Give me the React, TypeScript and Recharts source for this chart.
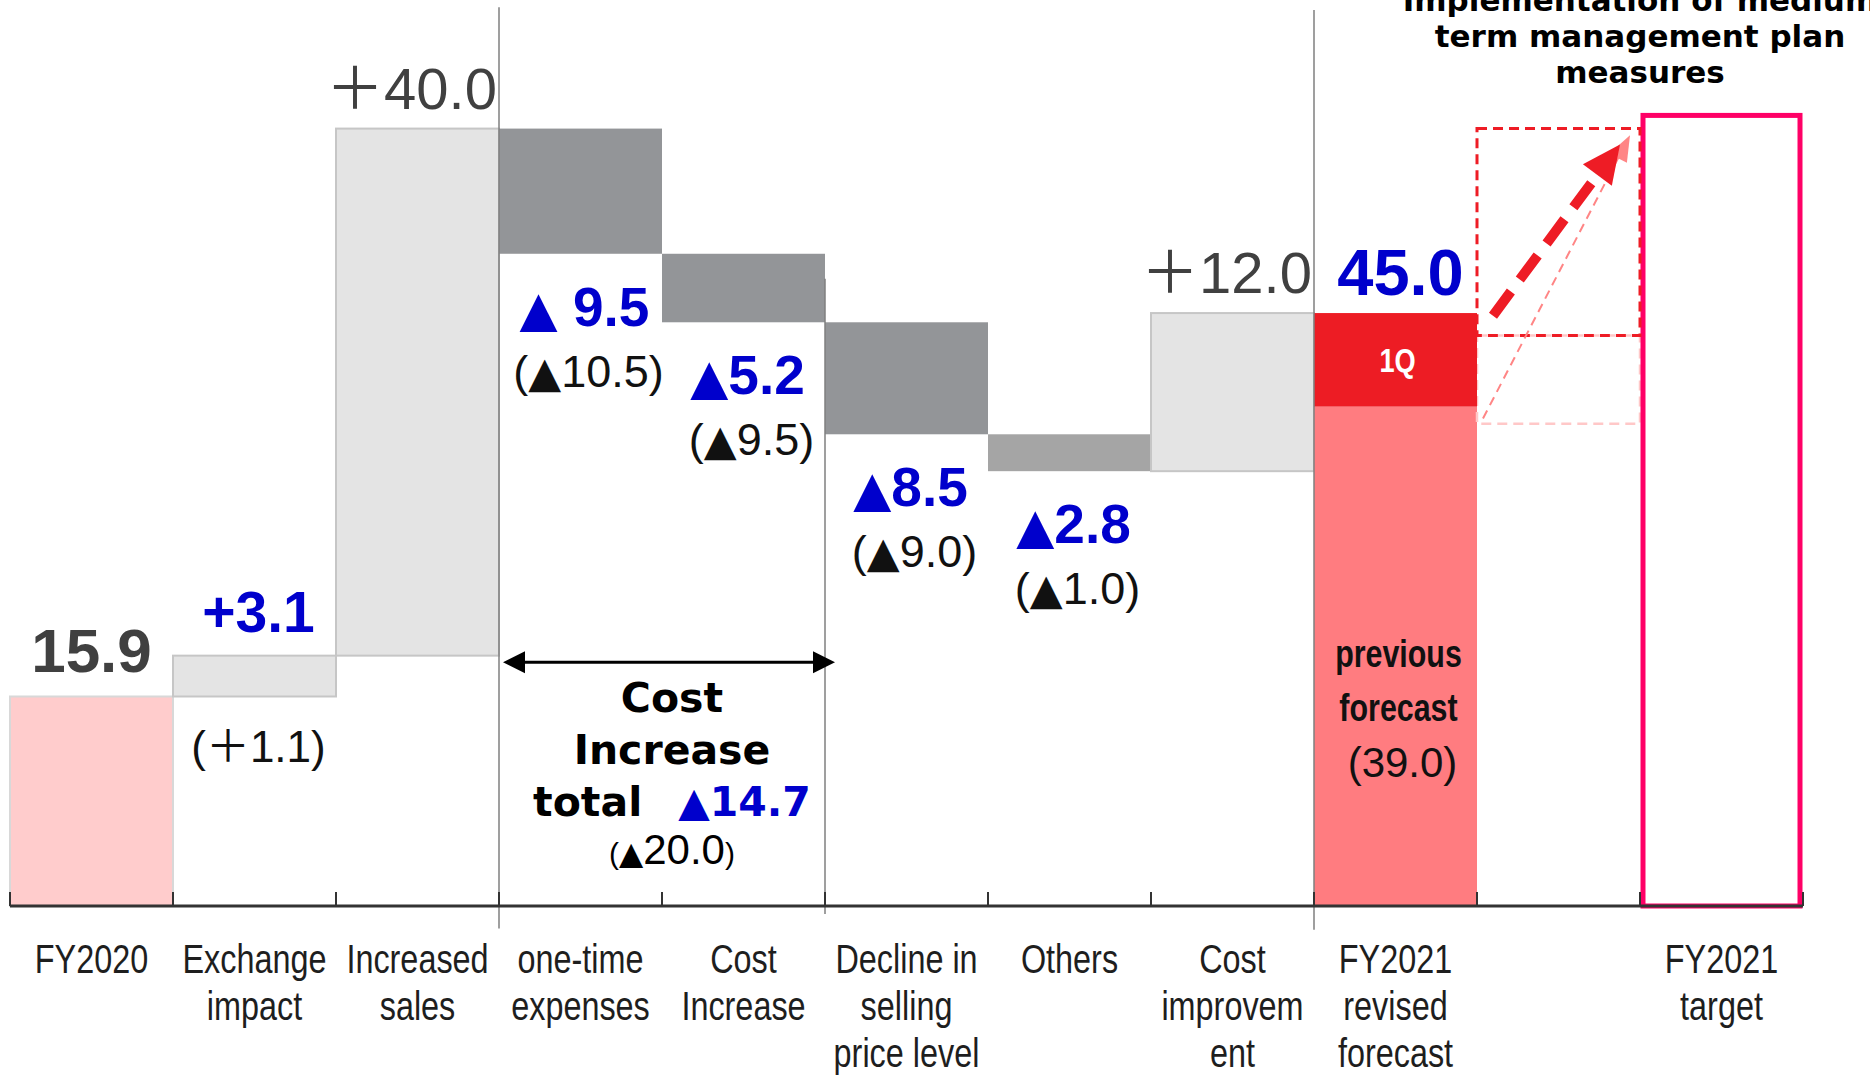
import React from 'react'
import { BarChart, Bar, XAxis, YAxis, ReferenceLine } from 'recharts'

const categories = [
  'FY2020', 'Exchange impact', 'Increased sales', 'one-time expenses', 'Cost Increase',
  'Decline in selling price level', 'Others', 'Cost improvement', 'FY2021 revised forecast',
  'plan measures', 'FY2021 target',
]

const tickLines = [
  ['FY2020'], ['Exchange', 'impact'], ['Increased', 'sales'], ['one-time', 'expenses'],
  ['Cost', 'Increase'], ['Decline in', 'selling', 'price level'], ['Others'],
  ['Cost', 'improvem', 'ent'], ['FY2021', 'revised', 'forecast'], [], ['FY2021', 'target'],
]

// FY2020 result followed by each bridge item
const steps = [15.9, 3.1, 40.0, -9.5, -5.2, -8.5, -2.8, 12.0]
const revisedTotal = 45.0
const revisedPrev = 37.9
const planBox = [36.6, 43.3, 59.0]
const targetValue = 60.0

const stepLabels = ['15.9', '+3.1', '＋40.0', '▲ 9.5', '▲5.2', '▲8.5', '▲2.8', '＋12.0']
const prevYearLabels = ['', '(＋1.1)', '', '(▲10.5)', '(▲9.5)', '(▲9.0)', '(▲1.0)', '']
const costTotalLines = ['Cost', 'Increase', 'total', '▲14.7', '(▲20.0)']
const forecastNote = ['previous', 'forecast', '(39.0)']
const planTitle = ['Implementation of medium', 'term management plan', 'measures']

// separators drawn at the left edge of these categories
const separators = [
  { at: 3, top: 68.2, bottom: -1.7 },
  { at: 5, top: 47.6, bottom: -0.6 },
  { at: 8, top: 68.0, bottom: -1.8 },
]
const costSpan = { from: 3, to: 5, y: 18.5 }
// arrows from the left edge of the plan slot to the left edge of the target slot
const planArrows = [
  { y1: 37.0, y2: 58.5, dx1: 6, dx2: -10, bold: false },
  { y1: 44.8, y2: 57.8, dx1: 16, dx2: -20, bold: true },
]

const fills = ['#ffcccc', '#e4e4e4', '#e4e4e4', '#939598', '#939598', '#939598', '#a5a5a5', '#e4e4e4', '#ff7c80']

const rows = (() => {
  let level = 0
  return categories.map((name, i) => {
    if (i < steps.length) {
      const s = steps[i]
      const base = s >= 0 ? level : level + s
      level += s
      return { name, base, delta: Math.abs(s), top: 0 }
    }
    if (i === 8) return { name, base: 0, delta: revisedPrev, top: revisedTotal - revisedPrev }
    if (i === 9) return { name, base: planBox[0], delta: planBox[1] - planBox[0], top: planBox[2] - planBox[1] }
    return { name, base: 0, delta: targetValue, top: 0 }
  })
})()

const SANS = "'Liberation Sans', 'DejaVu Sans', 'Noto Sans CJK JP', sans-serif"
const VERDANA = "'DejaVu Sans', 'Liberation Sans', sans-serif"
const BLUE = '#0000cc'
const DARK = '#404040'

function Tri({ size = '0.8em' }: { size?: string }) {
  return <tspan fontFamily={VERDANA} fontSize={size}>▲</tspan>
}

function splitTri(label: string, size?: string) {
  const parts = label.split('▲')
  if (parts.length === 1) return label
  return <>{parts[0]}<Tri size={size} />{parts[1]}</>
}

// Liberation Sans squeezed horizontally, like Arial Narrow
function Narrow({ x, y, sx = 0.8, children, ...rest }: any) {
  return (
    <text transform={`translate(${x},${y}) scale(${sx},1)`} x={0} y={0} fontFamily={SANS} {...rest}>
      {children}
    </text>
  )
}

function StepShape(props: any) {
  const { x, y, width, height, index } = props
  const cx = x + width / 2
  if (index === 9) {
    return <rect x={x} y={y} width={width} height={height} fill="none" stroke="#ffc8c8" strokeWidth={2.5} strokeDasharray="10 6" />
  }
  if (index === 10) {
    return <rect x={x + 3} y={y} width={width - 6} height={height} fill="#fff" stroke="#ff0066" strokeWidth={5} />
  }
  const light = [1, 2, 7].includes(index)
  const bottom = y + height
  return (
    <g>
      <rect x={x} y={y} width={width} height={height} fill={fills[index]}
        stroke={light ? '#c6c6c6' : index === 0 ? '#d8d8d8' : 'none'} strokeWidth={2} />
      {index === 0 && (
        <text x={cx} y={y - 24} textAnchor="middle" fontFamily={SANS} fontWeight="bold" fontSize={62} fill={DARK}>{stepLabels[0]}</text>
      )}
      {index === 1 && (
        <>
          <text x={cx + 4} y={y - 24} textAnchor="middle" fontFamily={SANS} fontWeight="bold" fontSize={57} fill={BLUE}>{stepLabels[1]}</text>
          <text x={cx + 4} y={bottom + 66} textAnchor="middle" fontFamily={SANS} fontSize={44} fill="#111">{prevYearLabels[1]}</text>
        </>
      )}
      {(index === 2 || index === 7) && (
        <text x={x + width - 2} y={y - 20} textAnchor="end" fontFamily={SANS} fontSize={58} fill={DARK}>{stepLabels[index]}</text>
      )}
      {index >= 3 && index <= 6 && (
        <>
          <text x={cx + 4} y={bottom + 72} textAnchor="middle" fontFamily={SANS} fontWeight="bold" fontSize={55} fill={BLUE}>
            {splitTri(stepLabels[index], '0.9em')}
          </text>
          <text x={cx + 8} y={bottom + 133} textAnchor="middle" fontFamily={SANS} fontSize={45} fill="#111">
            {splitTri(prevYearLabels[index], '0.95em')}
          </text>
        </>
      )}
      {index === 8 && (
        <>
          <Narrow x={cx + 3} y={y + 260} textAnchor="middle" fontWeight="bold" fontSize={38} fill="#111">{forecastNote[0]}</Narrow>
          <Narrow x={cx + 3} y={y + 314} textAnchor="middle" fontWeight="bold" fontSize={38} fill="#111">{forecastNote[1]}</Narrow>
          <text x={cx + 7} y={y + 370} textAnchor="middle" fontFamily={SANS} fontSize={42} fill="#111">{forecastNote[2]}</text>
        </>
      )}
    </g>
  )
}

function TopShape(props: any) {
  const { x, y, width, height, index } = props
  const cx = x + width / 2
  if (index === 8) {
    return (
      <g>
        <rect x={x} y={y} width={width} height={height} fill="#ed1c24" />
        <Narrow x={cx + 2} y={y + height / 2 + 12} textAnchor="middle" fontWeight="bold" fontSize={34} fill="#fff">1Q</Narrow>
        <text x={cx + 5} y={y - 18} textAnchor="middle" fontFamily={SANS} fontWeight="bold" fontSize={65} fill={BLUE}>{revisedTotal.toFixed(1)}</text>
      </g>
    )
  }
  if (index === 9) {
    return (
      <g>
        <rect x={x} y={y} width={width} height={height} fill="none" stroke="#ee1c25" strokeWidth={3} strokeDasharray="10 6" />
        {planTitle.map((t, i) => (
          <text key={t} x={x + width} y={y - 118 + i * 36} textAnchor="middle" fontFamily={VERDANA} fontWeight="bold" fontSize={31} fill="#000">{t}</text>
        ))}
      </g>
    )
  }
  return <g />
}

function CategoryTick(props: any) {
  const { x, y, payload, index } = props
  const half = payload?.offset ?? 81.5
  const i = payload?.index ?? index
  const lines = tickLines[i] || []
  return (
    <g>
      <line x1={x - half} x2={x - half} y1={y} y2={y - 14} stroke="#333" strokeWidth={2} />
      {i === categories.length - 1 && <line x1={x + half} x2={x + half} y1={y} y2={y - 14} stroke="#333" strokeWidth={2} />}
      <Narrow x={x} y={y + 67} sx={0.79} textAnchor="middle" fontSize={41} fill="#1e1e1e">
        {lines.map((l, k) => <tspan key={k} x={0} dy={k === 0 ? 0 : 47}>{l}</tspan>)}
      </Narrow>
    </g>
  )
}

function arrowHead(x1: number, y1: number, x2: number, y2: number, len: number, wid: number) {
  const a = Math.atan2(y2 - y1, x2 - x1)
  const bx = x2 - len * Math.cos(a)
  const by = y2 - len * Math.sin(a)
  const nx = -Math.sin(a) * wid / 2
  const ny = Math.cos(a) * wid / 2
  return `${x2},${y2} ${bx + nx},${by + ny} ${bx - nx},${by - ny}`
}

function CostArrow(props: any) {
  const x1 = props.x1 + 4
  const x2 = props.x2 + 10
  const y1 = props.y1
  const cx = (x1 + x2) / 2 + 3
  return (
    <g>
      <line x1={x1 + 18} y1={y1} x2={x2 - 18} y2={y1} stroke="#000" strokeWidth={3} />
      <polygon points={arrowHead(x2, y1, x1, y1, 22, 22)} fill="#000" />
      <polygon points={arrowHead(x1, y1, x2, y1, 22, 22)} fill="#000" />
      <text x={cx} y={y1 + 50} textAnchor="middle" fontFamily={VERDANA} fontWeight="bold" fontSize={41} fill="#000">{costTotalLines[0]}</text>
      <text x={cx} y={y1 + 102} textAnchor="middle" fontFamily={VERDANA} fontWeight="bold" fontSize={41} fill="#000">{costTotalLines[1]}</text>
      <text x={cx} y={y1 + 154} textAnchor="middle" fontFamily={VERDANA} fontWeight="bold" fontSize={41}>
        <tspan fill="#000">{costTotalLines[2]}</tspan>
        <tspan dx={36} fill={BLUE}>{costTotalLines[3]}</tspan>
      </text>
      <text x={cx} y={y1 + 202} textAnchor="middle" fontFamily={SANS} fontSize={42} fill="#000">
        <tspan fontSize={30}>(</tspan><Tri size="0.75em" />20.0<tspan fontSize={30}>)</tspan>
      </text>
    </g>
  )
}

function planArrowShape(bold: boolean, dx1: number, dx2: number) {
  return (props: any) => {
    const x1 = props.x1 + dx1
    const x2 = props.x2 + dx2
    const { y1, y2 } = props
    const len = bold ? 38 : 26
    const a = Math.atan2(y2 - y1, x2 - x1)
    const ex = x2 - (len - 4) * Math.cos(a)
    const ey = y2 - (len - 4) * Math.sin(a)
    const color = bold ? '#ee1c25' : '#ff8585'
    return (
      <g>
        <line x1={x1} y1={y1} x2={ex} y2={ey} stroke={color}
          strokeWidth={bold ? 10 : 2} strokeDasharray={bold ? '30 15' : '9 6'} />
        <polygon points={arrowHead(x1, y1, x2, y2, len, bold ? 36 : 20)} fill={color} />
      </g>
    )
  }
}

export default function App() {
  return (
    <div style={{ position: 'absolute', left: 0, top: 0, width: 1870, height: 1075, background: '#fff' }}>
      <BarChart width={1870} height={1075} data={rows} barCategoryGap={0} barGap={0}
        margin={{ top: 10, right: 67, bottom: 19, left: 10 }}>
        <XAxis dataKey="name" interval={0} height={150} tickLine={false} tickSize={0} tickMargin={0}
          axisLine={{ stroke: '#333', strokeWidth: 3 }} tick={CategoryTick} />
        <YAxis hide domain={[0, 68]} />
        <Bar dataKey="base" stackId="w" fill="transparent" isAnimationActive={false} />
        <Bar dataKey="delta" stackId="w" shape={StepShape} isAnimationActive={false} />
        <Bar dataKey="top" stackId="w" shape={TopShape} isAnimationActive={false} />
        {separators.map(s => (
          <ReferenceLine key={s.at} ifOverflow="visible" position="start"
            segment={[{ x: categories[s.at], y: s.top }, { x: categories[s.at], y: s.bottom }]}
            stroke="#7f7f7f" strokeWidth={1.5} />
        ))}
        <ReferenceLine ifOverflow="visible" position="start"
          segment={[{ x: categories[costSpan.from], y: costSpan.y }, { x: categories[costSpan.to], y: costSpan.y }]}
          shape={CostArrow} />
        {planArrows.map((a, i) => (
          <ReferenceLine key={i} ifOverflow="visible" position="start"
            segment={[{ x: categories[9], y: a.y1 }, { x: categories[10], y: a.y2 }]}
            shape={planArrowShape(a.bold, a.dx1, a.dx2)} />
        ))}
      </BarChart>
    </div>
  )
}
